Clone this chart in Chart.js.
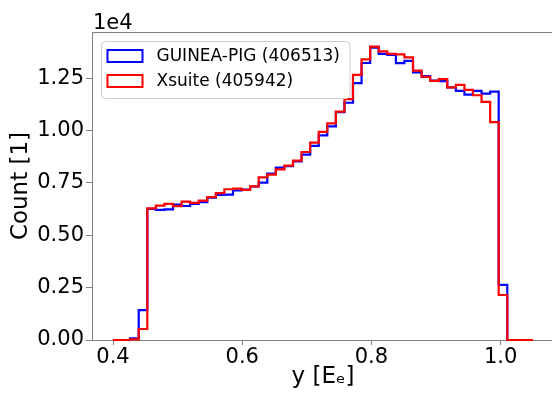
<!DOCTYPE html>
<html>
<head>
<meta charset="utf-8">
<script src="https://cdn.jsdelivr.net/npm/chart.js@4.4.0/dist/chart.umd.min.js"></script>
<style>
  html, body { margin: 0; padding: 0; background: #fff; overflow: hidden; }
  #wrap { position: relative; width: 552px; height: 394px; overflow: hidden; }
  canvas { position: absolute; left: 0; top: 0; }
</style>
</head>
<body>
<div id="wrap"><canvas id="histChart" width="560" height="394"></canvas></div>
<script>
// Histogram bin edges (49 bins between 0.4 and 1.05)
const binEdges = [
  0.4000, 0.4133, 0.4265, 0.4398, 0.4531, 0.4663, 0.4796, 0.4929, 0.5061, 0.5194,
  0.5327, 0.5459, 0.5592, 0.5724, 0.5857, 0.5990, 0.6122, 0.6255, 0.6388, 0.6520,
  0.6653, 0.6786, 0.6918, 0.7051, 0.7184, 0.7316, 0.7449, 0.7582, 0.7714, 0.7847,
  0.7980, 0.8112, 0.8245, 0.8378, 0.8510, 0.8643, 0.8776, 0.8908, 0.9041, 0.9173,
  0.9306, 0.9439, 0.9571, 0.9704, 0.9837, 0.9969, 1.0102, 1.0235, 1.0367, 1.0500
];

// Counts per bin
const guineaPigCounts = [
  0, 0, 80, 1430, 6260, 6210, 6240, 6470, 6400, 6500,
  6580, 6800, 6930, 6940, 7140, 7180, 7330, 7520, 7950, 8230,
  8300, 8530, 8850, 9270, 9770, 10200, 10880, 11330, 12270, 13230,
  13960, 13670, 13620, 13220, 13330, 12780, 12600, 12390, 12360, 12060,
  11900, 11720, 11900, 11770, 11860, 2630, 0, 0, 0
];
const xsuiteCounts = [
  0, 0, 30, 525, 6290, 6420, 6500, 6390, 6610, 6550,
  6660, 6820, 7010, 7200, 7230, 7170, 7340, 7770, 7900, 8150,
  8330, 8570, 8980, 9430, 9940, 10350, 10910, 11500, 12660, 13400,
  14010, 13780, 13670, 13640, 13500, 12870, 12570, 12380, 12460, 12070,
  12180, 11950, 11690, 11370, 10410, 2150, 0, 0, 0
];

const seriesNames = ['GUINEA-PIG (406513)', 'Xsuite (405942)'];
const seriesColors = ['#0000ff', '#ff0000'];
const xTickValues = [0.4, 0.6, 0.8, 1.0];
const yTickValues = [0, 2500, 5000, 7500, 10000, 12500];
const yOffsetLabel = '1e4';

const FONT = "'DejaVu Sans', 'Liberation Sans', sans-serif";
const AXIS_GREY = '#808080';

// step outline: a point on every left edge, closing point at the last edge
function toStepPoints(counts) {
  const pts = counts.map((c, i) => ({ x: binEdges[i], y: c }));
  pts.push({ x: binEdges[binEdges.length - 1], y: 0 });
  return pts;
}

// top spine, "1e4" offset text and the legend drawn inside the axes
const axesExtras = {
  id: 'axesExtras',
  afterDatasetsDraw(chart) {
    const { ctx, chartArea } = chart;
    ctx.save();

    ctx.strokeStyle = AXIS_GREY;
    ctx.lineWidth = 1;
    ctx.beginPath();
    ctx.moveTo(chartArea.left, chartArea.top + 0.5);
    ctx.lineTo(chartArea.right, chartArea.top + 0.5);
    ctx.stroke();

    ctx.fillStyle = '#000';
    ctx.font = '21px ' + FONT;
    ctx.textBaseline = 'alphabetic';
    ctx.textAlign = 'left';
    ctx.fillText(yOffsetLabel, chartArea.left + 1, chartArea.top - 3);

    // legend
    ctx.font = '17px ' + FONT;
    const textW = Math.max(...seriesNames.map(n => ctx.measureText(n).width));
    const bx = chartArea.left + 9.5, by = chartArea.top + 9.5;
    const bw = 55 + textW + 10, bh = 57;
    ctx.beginPath();
    ctx.roundRect(bx, by, bw, bh, 4);
    ctx.fillStyle = 'rgba(255,255,255,0.8)';
    ctx.fill();
    ctx.strokeStyle = '#cccccc';
    ctx.stroke();

    seriesNames.forEach((name, i) => {
      const rowY = by + 14.5 + i * 25;
      ctx.strokeStyle = seriesColors[i];
      ctx.lineWidth = 2;
      ctx.strokeRect(bx + 6, rowY - 6, 35, 12);
      ctx.fillStyle = '#000';
      ctx.textBaseline = 'middle';
      ctx.fillText(name, bx + 55, rowY + 1);
    });
    ctx.restore();
  }
};

const ctx = document.getElementById('histChart');
const histChart = new Chart(ctx, {
  type: 'line',
  data: {
    datasets: [
      {
        label: seriesNames[0],
        data: toStepPoints(guineaPigCounts),
        borderColor: seriesColors[0],
        backgroundColor: 'rgba(0,0,0,0)',
        clip: false,
        order: 1
      },
      {
        label: seriesNames[1],
        data: toStepPoints(xsuiteCounts),
        borderColor: seriesColors[1],
        backgroundColor: 'rgba(0,0,0,0)',
        clip: false,
        order: 0
      }
    ]
  },
  options: {
    responsive: false,
    animation: false,
    layout: { padding: { top: 32, right: 6, left: 0, bottom: 0 } },
    elements: {
      line: { stepped: 'before', borderWidth: 2.2, fill: false, tension: 0, borderJoinStyle: 'miter' },
      point: { radius: 0 }
    },
    plugins: {
      legend: { display: false },
      tooltip: { enabled: false }
    },
    scales: {
      x: {
        type: 'linear',
        min: 0.3675,
        max: 1.0825,
        afterBuildTicks: axis => { axis.ticks = xTickValues.map(v => ({ value: v })); },
        afterFit: axis => { axis.height = 54; },
        border: { display: true, color: AXIS_GREY, width: 1 },
        grid: { drawOnChartArea: false, drawTicks: true, tickLength: 5, tickColor: AXIS_GREY },
        ticks: {
          color: '#000',
          font: { family: FONT, size: 21 },
          padding: 0,
          maxRotation: 0,
          callback: v => v.toFixed(1)
        },
        title: {
          display: true,
          text: 'y [Eₑ]',
          color: '#000',
          font: { family: FONT, size: 23 },
          padding: { top: 0, bottom: 3 }
        }
      },
      y: {
        min: 0,
        max: 14710,
        afterBuildTicks: axis => { axis.ticks = yTickValues.map(v => ({ value: v })); },
        afterFit: axis => { axis.width = 92; },
        border: { display: true, color: AXIS_GREY, width: 1 },
        grid: { drawOnChartArea: false, drawTicks: true, tickLength: 6, tickColor: AXIS_GREY },
        ticks: {
          color: '#000',
          font: { family: FONT, size: 21 },
          padding: 2,
          callback: v => (v / 1e4).toFixed(2)
        },
        title: {
          display: true,
          text: 'Count [1]',
          color: '#000',
          font: { family: FONT, size: 23 },
          padding: { top: 7, bottom: 0 }
        }
      }
    }
  },
  plugins: [axesExtras]
});
</script>
</body>
</html>
